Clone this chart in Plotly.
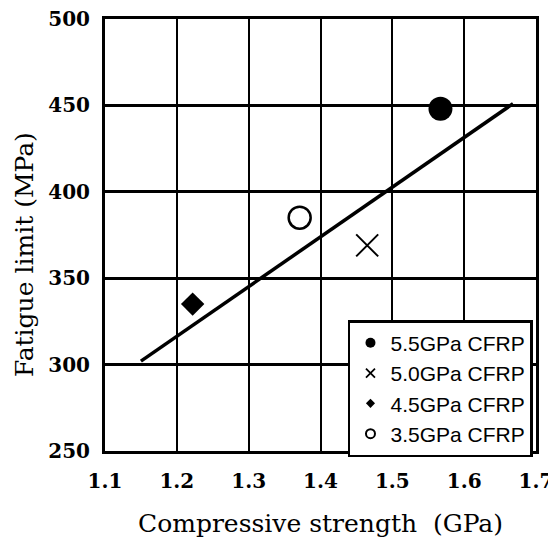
import plotly.graph_objects as go

# ---- data ----
grades = ["5.5GPa CFRP", "5.0GPa CFRP", "4.5GPa CFRP", "3.5GPa CFRP"]
compressive_strength = [1.567, 1.465, 1.222, 1.371]   # GPa
fatigue_limit = [448, 369, 335, 385]                  # MPa
fit_x = [1.15, 1.668]
fit_y = [302, 451]

x_ticks = [1.1, 1.2, 1.3, 1.4, 1.5, 1.6, 1.7]
x_tick_labels = ["1.1", "1.2", "1.3", "1.4", "1.5", "1.6", "1.7"]
y_ticks = [250, 300, 350, 400, 450, 500]
y_tick_labels = ["250", "300", "350", "400", "450", "500"]

# ---- styles ----
plot_styles = [
    dict(symbol="circle", size=24, color="black", line=dict(width=0, color="black")),
    dict(symbol="x-thin-open", size=22, color="black", line=dict(width=2, color="black")),
    dict(symbol="diamond", size=18, color="black", line=dict(width=0, color="black")),
    dict(symbol="circle-open", size=22, color="black", line=dict(width=2.5, color="black")),
]
legend_styles = [
    dict(symbol="circle", size=10, color="black", line=dict(width=0, color="black")),
    dict(symbol="x-thin-open", size=9, color="black", line=dict(width=1.8, color="black")),
    dict(symbol="diamond", size=7, color="black", line=dict(width=0, color="black")),
    dict(symbol="circle-open", size=9, color="black", line=dict(width=2, color="black")),
]

fig = go.Figure()

# regression line
fig.add_trace(go.Scatter(x=fit_x, y=fit_y, mode="lines",
                         line=dict(color="black", width=3.5),
                         showlegend=False, hoverinfo="skip"))

# data points
for i, name in enumerate(grades):
    fig.add_trace(go.Scatter(x=[compressive_strength[i]], y=[fatigue_limit[i]],
                             mode="markers", marker=plot_styles[i],
                             name=name, showlegend=False))
# legend entries (smaller symbols like the reference)
for i, name in enumerate(grades):
    fig.add_trace(go.Scatter(x=[None], y=[None], mode="markers",
                             marker=legend_styles[i], name=name, showlegend=True))

tick_font = dict(family="DejaVu Serif", size=20, color="black", weight="bold")
title_font = dict(family="DejaVu Serif", size=25, color="black")

# the page body adds an 8px offset, so the figure is 8px smaller and margins shifted
fig.update_layout(
    width=548, height=538,
    margin=dict(l=97, r=20, t=11, b=95, autoexpand=False),
    paper_bgcolor="white", plot_bgcolor="white",
    showlegend=True,
    legend=dict(x=0.993, xanchor="right", y=0.303, yanchor="top",
                bgcolor="white", bordercolor="black", borderwidth=2.5,
                font=dict(family="Liberation Sans", size=21, color="black"),
                itemsizing="trace", itemwidth=30, tracegroupgap=0),
    xaxis=dict(range=[1.1, 1.7], tickmode="array", tickvals=x_ticks, ticktext=x_tick_labels,
               showgrid=True, gridcolor="black", gridwidth=1.8,
               showline=True, linecolor="black", linewidth=3, mirror=True,
               ticks="", ticklabelstandoff=10, tickfont=tick_font, zeroline=False,
               automargin=False, ticklabeloverflow="allow"),
    yaxis=dict(range=[250, 500], tickmode="array", tickvals=y_ticks, ticktext=y_tick_labels,
               showgrid=True, gridcolor="black", gridwidth=2.5,
               showline=True, linecolor="black", linewidth=3, mirror=True,
               ticks="", ticklabelstandoff=8, tickfont=tick_font, zeroline=False,
               automargin=False, ticklabeloverflow="allow"),
    annotations=[
        dict(text="Compressive strength\u00a0\u00a0(GPa)", xref="paper", yref="paper",
             x=0.5, y=-0.1667, xanchor="center", yanchor="middle",
             showarrow=False, font=title_font),
        dict(text="Fatigue limit (MPa)", xref="paper", yref="paper",
             x=-0.188, y=0.456, xanchor="center", yanchor="middle", textangle=-90,
             showarrow=False, font=title_font),
    ],
)

fig.write_html("out.html")
